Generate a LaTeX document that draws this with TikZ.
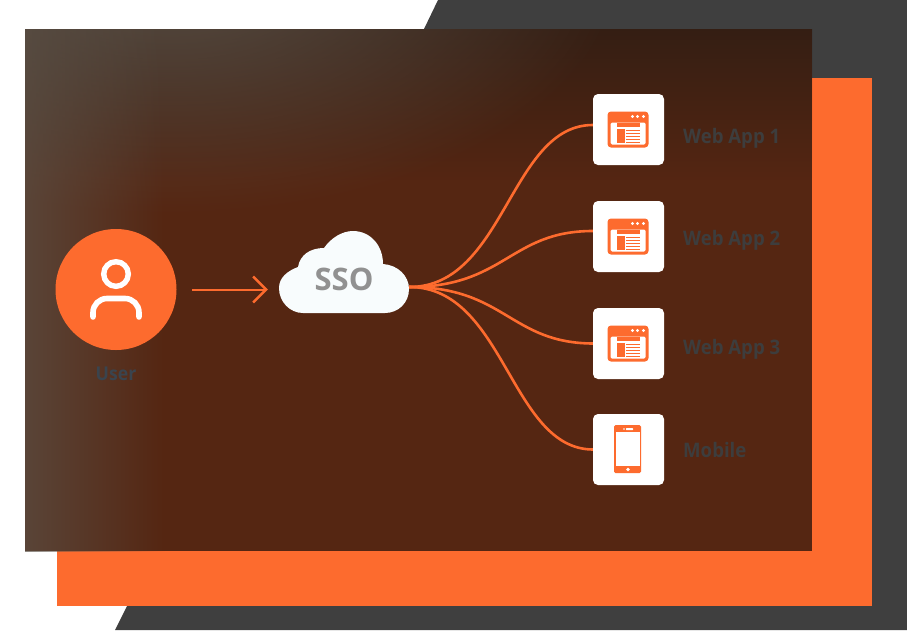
\documentclass[tikz,border=0pt]{standalone}
\usepackage{fontspec}
\setmainfont{Open Sans}
\newfontfamily\labelfont[FakeStretch=0.93]{Open Sans}
\usetikzlibrary{arrows.meta,fadings}
\definecolor{accent}{HTML}{FD6B2E}
\definecolor{slab}{HTML}{3F3F3F}
\definecolor{panelbase}{HTML}{552612}
\definecolor{paneldark}{HTML}{2A1C14}
\definecolor{panelglow}{HTML}{5C5248}
\definecolor{cloudwhite}{HTML}{F8FCFD}
\definecolor{appink}{HTML}{3D3D3D}
\definecolor{userink}{HTML}{3A444E}
\tikzfading[name=glowfade, inner color=transparent!8, middle color=transparent!35, outer color=transparent!100]
\tikzfading[name=edgefade, left color=transparent!0, middle color=transparent!70, right color=transparent!100]
\tikzfading[name=topfade, top color=transparent!0, middle color=transparent!55, bottom color=transparent!100]
\tikzset{
    appbox/.style={rectangle, fill=white, rounded corners=5pt, minimum width=71pt, minimum height=71pt, inner sep=0pt},
    applabel/.style={anchor=base west, text=appink, font=\labelfont\bfseries\fontsize{20}{20}\selectfont, inner sep=0pt},
    link/.style={draw=accent, line width=2.6pt},
    winicon/.pic={
        \fill[accent, rounded corners=3.5pt] (-21,-18) rectangle (20,18);
        \fill[white, rounded corners=1.5pt] (-18,-7) rectangle (17,15);
        \foreach \dotx in {4,9,15} \fill[white] (\dotx,-13) circle (1.6);
        \fill[accent] (-12,-6.5) rectangle (11,-2.5);
        \fill[accent] (-12,-1) rectangle (-3.5,13);
        \foreach \stripey in {0,3,6,9,12} \fill[accent] (-2.5,\stripey) rectangle (11,\stripey+1.5);
    },
    phoneicon/.pic={
        \fill[accent, rounded corners=1.5pt] (-14.5,-24.5) rectangle (12.5,23.5);
        \fill[white] (-12.5,-17.5) rectangle (11,16.5);
        \fill[white] (-4.5,-20.5) circle (0.9);
        \fill[white, rounded corners=0.5pt] (-2.5,-21.5) rectangle (4.5,-19.5);
        \fill[white] (-0.5,20) circle (1.8);
    }
}
\begin{document}
\begin{tikzpicture}[x=1pt, y=-1pt]
    \useasboundingbox (0,0) rectangle (907,630);

    % backdrop
    \fill[slab] (438,0) -- (907,0) -- (907,630) -- (115,630) -- (127,606) -- (424,29) -- cycle;
    \fill[accent] (57,78) rectangle (872,606);

    % panel with its shaded corners
    \fill[panelbase] (25,29) rectangle (812,551);
    \begin{scope}
        \clip (25,29) rectangle (812,551);
        \fill[paneldark, path fading=topfade] (-500,-21) rectangle (1300,180);
        \fill[panelglow, path fading=glowfade] (170,-30) ellipse [x radius=450, y radius=245];
        \fill[panelglow, path fading=edgefade] (-35,-100) rectangle (165,700);
    \end{scope}

    % user side
    \node[circle, fill=accent, minimum size=121pt, inner sep=0pt] (user) at (116,289.5) {};
    \draw[white, line width=5.4pt] (116,274) circle (12.3);
    \draw[white, line width=5.6pt, line cap=round, rounded corners=14pt] (93,317) -- (93,298.5) -- (139,298.5) -- (139,317);
    \node[anchor=base, text=userink, font=\labelfont\bfseries\fontsize{19}{19}\selectfont, inner sep=0pt] (userlabel) at (116,380) {User};

    % cloud
    \fill[cloudwhite] (303,313) .. controls (290,313) and (279,302) .. (279,288)
        .. controls (279,278) and (287,271) .. (298,267)
        .. controls (300,255) and (310,248) .. (324,248)
        .. controls (331,238) and (342,231) .. (353,231)
        .. controls (370,231) and (383,245) .. (383,264)
        .. controls (398,265) and (409,276) .. (409,289)
        .. controls (409,303) and (398,313) .. (385,313) -- cycle;
    \node[minimum width=130pt, minimum height=54pt, inner sep=0pt, text=black!43, font=\bfseries\fontsize{31}{31}\selectfont] (sso) at (344,287) {\raisebox{15pt}{SSO}};

    \draw[accent, line width=2pt, -{Straight Barb[length=13pt, width=26pt, line width=2.4pt]}, shorten <=15.5pt, shorten >=11pt] (user.east) -- (user -| sso.west);

    % targets
    \node[appbox] (app1) at (628.5,129.5) {};
    \node[appbox] (app2) at (628.5,236.5) {};
    \node[appbox] (app3) at (628.5,343.5) {};
    \node[appbox] (mobile) at (628.5,449.5) {};

    \foreach \target in {app1,app2,app3} \pic at (\target) {winicon};
    \pic at (mobile) {phoneicon};

    \node[applabel] (app1label) at (683,143) {Web App 1};
    \node[applabel] (app2label) at (683,245) {Web App 2};
    \node[applabel] (app3label) at (683,354) {Web App 3};
    \node[applabel] (mobilelabel) at (683,457.5) {Mobile};

    % links
    \draw[link] (sso.east) .. controls (505,287) and (510,125) .. ([yshift=4.5pt]app1.west);
    \draw[link] (sso.east) .. controls (505,287) and (510,231) .. ([yshift=5.5pt]app2.west);
    \draw[link] (sso.east) .. controls (505,287) and (510,343) .. (app3.west);
    \draw[link] (sso.east) .. controls (505,287) and (510,449) .. (mobile.west);
\end{tikzpicture}
\end{document}
